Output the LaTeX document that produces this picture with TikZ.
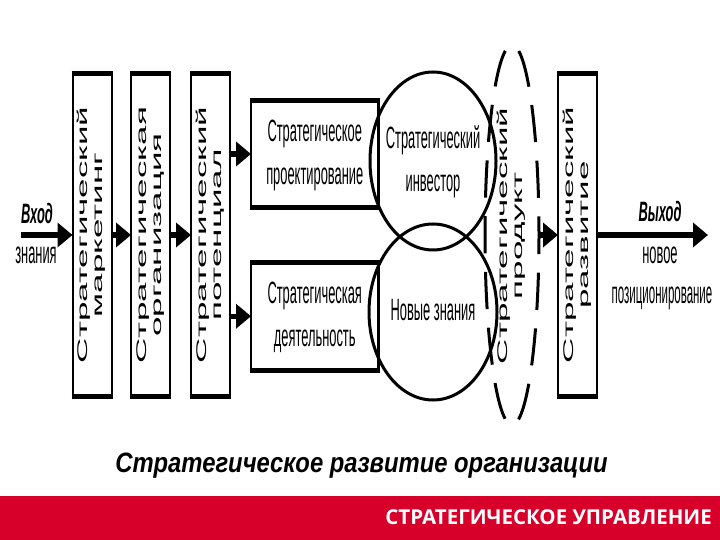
\documentclass[tikz,border=0pt]{standalone}
\usepackage{fontspec}
\usepackage{graphicx}
\setmainfont{Liberation Sans}
\newfontfamily\barfont{Open Sans}
\usetikzlibrary{arrows.meta,shapes.geometric}
\definecolor{barred}{RGB}{215,0,42}
\newcommand\vlab[2]{\rotatebox{90}{\scalebox{2.5}[1]{\fontsize{14}{15}\selectfont\begin{tabular}{@{}c@{}}#1\\#2\end{tabular}}}}
\newcommand\hlab[1]{\scalebox{0.92}[2.2]{\fontsize{14}{19.5}\selectfont\begin{tabular}{@{}c@{}}#1\end{tabular}}}
\newcommand\slab[2][0.92]{\scalebox{#1}[2.2]{\fontsize{14}{17}\selectfont #2}}
\newcommand\blab[1]{\scalebox{0.92}[2.0]{\fontsize{14}{17}\selectfont\bfseries\itshape #1}}
\tikzset{
  vbox/.style={draw, line width=2pt, outer sep=0pt, inner sep=0pt, minimum width=39pt, minimum height=323pt},
  hbox/.style={draw, line width=2.5pt, outer sep=0pt, inner sep=0pt, minimum width=127.5pt},
  ring/.style={draw, ellipse, line width=3pt, outer sep=0pt, inner sep=0pt},
  thick border/.style={line width=5pt, shorten <=-1pt, shorten >=-1pt},
  arr/.style={line width=5.5pt, -{Triangle[length=15pt, width=24pt]}},
  lbl/.style={inner sep=0pt, anchor=base}
}
\begin{document}
\begin{tikzpicture}[x=1pt, y=-1pt]
\useasboundingbox (0,0) rectangle (720,540);
% vertical boxes
\node[vbox] (b1) at (92,235) {\vlab{Стратегический}{маркетинг}};
\node[vbox] (b2) at (150.5,235) {\vlab{Стратегическая}{организация}};
\node[vbox] (b3) at (210.5,235) {\vlab{Стратегический}{потенциал}};
\node[vbox] (b4) at (577.5,235) {\vlab{Стратегический}{развитие}};
\foreach \b in {b1,b2,b3,b4}{
  \draw[thick border] (\b.north west) -- (\b.north east);
  \draw[thick border] (\b.south west) -- (\b.south east);
}
% horizontal boxes
\node[hbox, minimum height=107pt] (p1) at (314.75,154) {\hlab{Стратегическое\\проектирование}};
\node[hbox, minimum height=108.5pt] (p2) at (314.75,316.25) {\hlab{Стратегическая\\деятельность}};
\foreach \b in {p1,p2}{
  \draw[thick border] (\b.north west) -- (\b.north east);
  \draw[thick border] (\b.south west) -- (\b.south east);
}
% circles
\node[ring, minimum width=126pt, minimum height=178pt] (c1) at (433,161) {};
\node[ring, minimum width=128pt, minimum height=176pt] (c2) at (433,312) {};
\node at (c1.center) {\hlab{Стратегический\\инвестор}};
\node at (c2.center) {\hlab{Новые знания}};
% dashed ellipse
\node[draw, ellipse, line width=3pt, outer sep=0pt, inner sep=0pt,
      minimum width=54pt, minimum height=380pt,
      dash pattern=on 37.2pt off 18.6pt, dash phase=18.6pt] (de) at (512,235) {};
\node (prod) at (511.5,236) {\vlab{Стратегический}{продукт}};
% arrows
\coordinate (inA) at (21,235);
\coordinate (outA) at (708,235);
\draw[arr] (inA) -- (b1.west);
\draw[arr] (b1.east) -- (b2.west);
\draw[arr] (b2.east) -- (b3.west);
\draw[arr] (b3.east |- p1.west) -- (p1.west);
\draw[arr] (b3.east |- p2.west) -- (p2.west);
\draw[arr] (de.east) -- (b4.west);
\draw[arr] (b4.east) -- (outA);
% side labels
\node[lbl] (vh) at (37,223) {\blab{Вход}};
\node[lbl] (zn) at (36,263) {\slab{знания}};
\node[lbl] (vy) at (660,222) {\blab{Выход}};
\node[lbl] (nv) at (660,263) {\slab{новое}};
\node[lbl] (pz) at (662,303) {\slab[0.82]{позиционирование}};
% caption
\node[lbl] (cap) at (361.5,472) {\scalebox{0.85}[1]{\fontsize{28}{30}\selectfont\bfseries\itshape Стратегическое развитие организации}};
% red bar
\fill[barred] (0,496) rectangle (720,540);
\node[inner sep=0pt, anchor=base east, text=white] (bar) at (712,524) {\barfont\bfseries\fontsize{20.5}{22}\selectfont СТРАТЕГИЧЕСКОЕ УПРАВЛЕНИЕ};
\end{tikzpicture}
\end{document}
